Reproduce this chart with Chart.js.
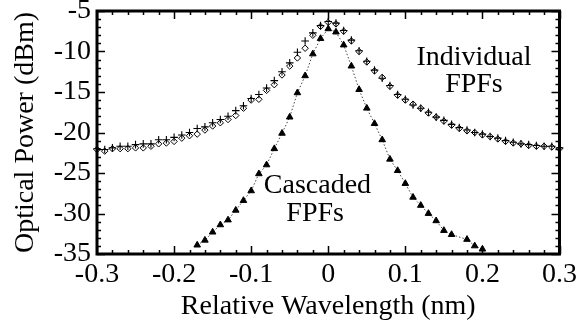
<!DOCTYPE html>
<html>
<head>
<meta charset="utf-8">
<script src="https://cdn.jsdelivr.net/npm/chart.js@4.4.1/dist/chart.umd.min.js"></script>
<style>
  html, body { margin: 0; padding: 0; background: #ffffff; }
  #wrap { width: 584px; height: 326px; }
</style>
</head>
<body>
<div id="wrap"><canvas id="c" width="584" height="326"></canvas></div>
<script>
// ---------- data ----------
const wavelengthIndividual = [
  -0.30, -0.29, -0.28, -0.27, -0.26, -0.25, -0.24, -0.23, -0.22, -0.21,
  -0.20, -0.19, -0.18, -0.17, -0.16, -0.15, -0.14, -0.13, -0.12, -0.11,
  -0.10, -0.09, -0.08, -0.07, -0.06, -0.05, -0.04, -0.03, -0.02, -0.01,
   0.00,  0.01,  0.02,  0.03,  0.04,  0.05,  0.06,  0.07,  0.08,  0.09,
   0.10,  0.11,  0.12,  0.13,  0.14,  0.15,  0.16,  0.17,  0.18,  0.19,
   0.20,  0.21,  0.22,  0.23,  0.24,  0.25,  0.26,  0.27,  0.28,  0.29,
   0.30
];
// Individual FPF #1 (open diamonds)
const individualDiamond = [
  -22.1, -22.3, -22.0, -22.0, -22.0, -21.9, -21.9, -21.7, -21.4, -21.3,
  -21.1, -20.7, -20.4, -20.2, -19.7, -19.2, -18.8, -18.4, -17.9, -17.0,
  -16.0, -15.9, -14.8, -14.1, -12.9, -11.8, -10.8,  -9.6,  -8.0,  -6.9,
   -6.4,  -6.6,  -7.5,  -8.7, -10.0, -11.3, -12.4, -13.2, -14.3, -15.4,
  -16.0, -16.5, -17.0, -17.6, -18.1, -18.6, -19.1, -19.5, -19.8, -20.0,
  -20.3, -20.5, -20.8, -21.1, -21.3, -21.4, -21.6, -21.7, -21.7, -21.8,
  -22.0
];
// Individual FPF #2 (plus signs)
const individualPlus = [
  -22.0, -22.1, -21.9, -21.7, -21.7, -21.5, -21.4, -21.4, -20.9, -20.9,
  -20.6, -20.3, -20.0, -19.5, -19.3, -18.8, -18.4, -18.0, -17.3, -16.7,
  -15.8, -15.3, -14.5, -13.6, -12.5, -11.4, -10.1,  -8.7,  -7.7,  -6.8,
   -6.3,  -6.5,  -7.4,  -8.6,  -9.9, -11.2, -12.3, -13.3, -14.2, -15.3,
  -15.9, -16.6, -17.0, -17.5, -18.1, -18.5, -19.0, -19.4, -19.7, -20.0,
  -20.2, -20.5, -20.7, -21.0, -21.2, -21.4, -21.5, -21.6, -21.7, -21.7,
  -21.9
];
const wavelengthCascaded = [
  -0.17, -0.16, -0.15, -0.14, -0.13, -0.12, -0.11, -0.10, -0.09, -0.08,
  -0.07, -0.06, -0.05, -0.04, -0.03, -0.02, -0.01,  0.00,  0.01,  0.02,
   0.03,  0.04,  0.05,  0.06,  0.07,  0.08,  0.09,  0.10,  0.11,  0.12,
   0.13,  0.14,  0.15,  0.16,  0.17,  0.18,  0.19,  0.20
];
const cascadedPower = [
  -33.9, -33.3, -32.3, -31.4, -30.8, -29.6, -28.4, -27.2, -25.1, -24.0,
  -22.0, -20.1, -18.1, -15.1, -13.0, -10.3,  -8.4,  -7.2,  -7.6,  -9.2,
  -11.8, -14.7, -17.0, -18.9, -20.9, -23.3, -24.7, -26.3, -28.0, -29.0,
  -30.0, -30.9, -32.1, -32.6,  null, -33.2, -34.0, -34.4
];
const xTickMin = -0.3, xTickMax = 0.3, xTickStep = 0.1;
const yTickMin = -35, yTickMax = -5, yTickStep = 5;
const xTitle = 'Relative Wavelength (nm)';
const yTitle = 'Optical Power (dBm)';
const labelIndividual = ['Individual', 'FPFs'];
const labelCascaded = ['Cascaded', 'FPFs'];

// ---------- build ----------
const pts = (xs, ys) => xs.map((x, i) => ({ x: x, y: ys[i] }));
const FONT = "'Liberation Serif', 'Times New Roman', Times, serif";

const frameAndTicks = {
  id: 'frameAndTicks',
  afterDatasetsDraw(chart) {
    const { ctx, chartArea: a, scales: { x, y } } = chart;
    ctx.save();
    ctx.strokeStyle = '#000';
    ctx.fillStyle = '#000';
    ctx.font = '28px ' + FONT;
    ctx.textAlign = 'center';
    ctx.textBaseline = 'middle';
    ctx.fillText(labelIndividual[0], x.getPixelForValue(0.189), y.getPixelForValue(-10.7));
    ctx.fillText(labelIndividual[1], x.getPixelForValue(0.189), y.getPixelForValue(-14.15));
    ctx.fillText(labelCascaded[0], x.getPixelForValue(-0.014), y.getPixelForValue(-26.6));
    ctx.fillText(labelCascaded[1], x.getPixelForValue(-0.017), y.getPixelForValue(-30.05));
    ctx.lineWidth = 1.5;
    ctx.beginPath();
    for (let i = -15; i <= 15; i++) {
      const px = Math.round(x.getPixelForValue(i * 0.02)) + 0.5;
      const len = (i % 5 === 0) ? 8 : 4;
      ctx.moveTo(px, a.bottom); ctx.lineTo(px, a.bottom - len);
      ctx.moveTo(px, a.top); ctx.lineTo(px, a.top + len);
    }
    for (let v = -35; v <= -5; v++) {
      const py = Math.round(y.getPixelForValue(v)) + 0.5;
      const len = (v % 5 === 0) ? 8 : 4;
      ctx.moveTo(a.left, py); ctx.lineTo(a.left + len, py);
      ctx.moveTo(a.right, py); ctx.lineTo(a.right - len, py);
    }
    ctx.stroke();
    ctx.lineWidth = 3;
    ctx.strokeRect(a.left, a.top, a.right - a.left, a.bottom - a.top);
    ctx.restore();
  }
};

function draw() {
  new Chart(document.getElementById('c'), {
    type: 'line',
    data: {
      datasets: [
        {
          label: 'Cascaded FPFs',
          data: pts(wavelengthCascaded, cascadedPower),
          showLine: true,
          spanGaps: true,
          borderColor: '#444',
          borderWidth: 1,
          borderDash: [1.5, 2],
          pointStyle: 'triangle',
          pointRadius: 3.8,
          pointBackgroundColor: '#000',
          pointBorderColor: '#000',
          pointBorderWidth: 1,
          clip: false
        },
        {
          label: 'Individual FPF (+)',
          data: pts(wavelengthIndividual, individualPlus),
          showLine: false,
          pointStyle: 'cross',
          pointRadius: 3.8,
          pointBorderColor: '#000',
          pointBorderWidth: 1.1,
          clip: false
        },
        {
          label: 'Individual FPF (diamond)',
          data: pts(wavelengthIndividual, individualDiamond),
          showLine: false,
          pointStyle: 'rectRot',
          pointRadius: 3.2,
          pointBackgroundColor: '#fff',
          pointBorderColor: '#000',
          pointBorderWidth: 1,
          clip: false
        }
      ]
    },
    options: {
      responsive: false,
      animation: false,
      events: [],
      layout: { padding: { left: 0, right: 20, top: 11, bottom: 0 } },
      plugins: { legend: { display: false }, tooltip: { enabled: false } },
      scales: {
        x: {
          type: 'linear',
          min: xTickMin, max: xTickMax,
          grid: { display: false, drawTicks: false },
          border: { display: false },
          afterFit: (s) => { s.height = 72; },
          ticks: {
            stepSize: xTickStep,
            padding: 7,
            color: '#000',
            maxRotation: 0,
            font: { family: FONT, size: 28, lineHeight: 1.0 },
            callback: (v) => (Math.abs(v) < 1e-9 ? '0' : Number(v).toFixed(1))
          },
          title: {
            display: true, text: xTitle, color: '#000',
            font: { family: FONT, size: 28, lineHeight: 1.0 },
            padding: { top: 5, bottom: 5 }
          }
        },
        y: {
          min: yTickMin, max: yTickMax,
          grid: { display: false, drawTicks: false },
          border: { display: false },
          afterFit: (s) => { s.width = 97; },
          ticks: {
            stepSize: yTickStep,
            padding: 6,
            color: '#000',
            font: { family: FONT, size: 28, lineHeight: 0.3 }
          },
          title: {
            display: true, text: yTitle, color: '#000',
            font: { family: FONT, size: 28, lineHeight: 1.0 },
            padding: { top: 12, bottom: 12 }
          }
        }
      }
    },
    plugins: [frameAndTicks]
  });
}
if (document.fonts && document.fonts.load) {
  document.fonts.load("28px 'Liberation Serif'").then(draw, draw);
} else {
  draw();
}
</script>
</body>
</html>
